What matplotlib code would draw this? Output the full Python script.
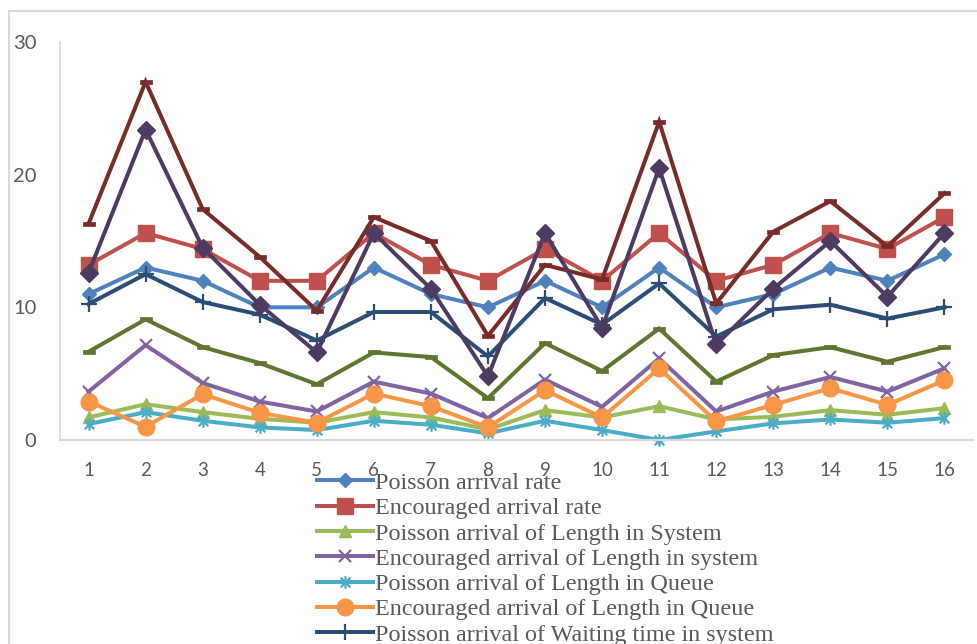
import numpy as np
import matplotlib
matplotlib.use('Agg')
import matplotlib.pyplot as plt
from matplotlib.path import Path
from matplotlib.patches import Rectangle

# experiment number on the x axis
runs = list(range(1, 16 + 1))

poisson_rate = [11, 13, 12, 10, 10, 13, 11, 10, 12, 10, 13, 10, 11, 13, 12, 14]
encouraged_rate = [13.2, 15.6, 14.4, 12, 12, 15.6, 13.2, 12, 14.4, 12, 15.6, 12, 13.2, 15.6, 14.4, 16.8]
poisson_ls = [1.7, 2.7, 2.1, 1.6, 1.3, 2.1, 1.7, 0.8, 2.25, 1.7, 2.55, 1.55, 1.75, 2.25, 1.9, 2.4]
encouraged_ls = [3.65, 7.15, 4.3, 2.9, 2.15, 4.4, 3.5, 1.65, 4.55, 2.5, 6.15, 2.15, 3.65, 4.75, 3.65, 5.4]
poisson_lq = [1.2, 2.1, 1.45, 0.95, 0.75, 1.45, 1.15, 0.5, 1.45, 0.75, 0, 0.65, 1.25, 1.55, 1.3, 1.65]
encouraged_lq = [2.9, 1.0, 3.45, 2.05, 1.3, 3.5, 2.55, 0.95, 3.75, 1.7, 5.4, 1.4, 2.65, 3.9, 2.65, 4.5]
poisson_ws = [10.25, 12.5, 10.4, 9.45, 7.5, 9.65, 9.65, 6.3, 10.7, 8.7, 11.8, 7.8, 9.85, 10.2, 9.15, 10.0]
encouraged_ws = [16.3, 27.0, 17.4, 13.8, 9.75, 16.8, 15.0, 7.85, 13.2, 12.1, 24.0, 10.3, 15.7, 18.0, 14.6, 18.6]
poisson_wq = [6.65, 9.1, 7.0, 5.8, 4.2, 6.6, 6.25, 3.15, 7.3, 5.2, 8.4, 4.4, 6.4, 7.0, 5.9, 7.0]
encouraged_wq = [12.6, 23.4, 14.5, 10.2, 6.6, 15.6, 11.4, 4.8, 15.6, 8.45, 20.5, 7.2, 11.4, 15.0, 10.8, 15.6]

labels = [
    'Poisson arrival rate',
    'Encouraged arrival rate',
    'Poisson arrival of Length in System',
    'Encouraged arrival of Length in system',
    'Poisson arrival of Length in Queue',
    'Encouraged arrival of Length in Queue',
    'Poisson arrival of Waiting time in system',
    'Encouraged arrival of Waiting time in system',
    'Poisson arrival of Waiting time in Queue',
    'Encouraged arrival of Waiting time in Queue',
]

# custom markers: asterisk (x plus vertical bar) and short flat dash
star = Path([(-1, -1), (1, 1), (-1, 1), (1, -1), (0, -1.3), (0, 1.3)],
            [Path.MOVETO, Path.LINETO, Path.MOVETO, Path.LINETO, Path.MOVETO, Path.LINETO])
dash = Path([(-1, -0.38), (1, -0.38), (1, 0.38), (-1, 0.38), (-1, -0.38)],
            [Path.MOVETO, Path.LINETO, Path.LINETO, Path.LINETO, Path.CLOSEPOLY])

series = [
    (poisson_rate, '#4F81BD', 'D', 7.5, 1),
    (encouraged_rate, '#C0504D', 's', 11, 1),
    (poisson_ls, '#9BBB59', '^', 9, 1),
    (encouraged_ls, '#8064A2', 'x', 9, 1.6),
    (poisson_lq, '#4BACC6', star, 9, 1.6),
    (encouraged_lq, '#F79646', 'o', 12, 1),
    (poisson_ws, '#2C4D75', '+', 11, 1.6),
    (encouraged_ws, '#772C2A', dash, 8, 0.5),
    (poisson_wq, '#5F7530', dash, 8, 0.5),
    (encouraged_wq, '#4D3B62', 'D', 9, 1),
]

fig = plt.figure(figsize=(9.78, 6.44), dpi=100)
W, H = 978, 644

# light grey chart border running off the right and bottom edges
fig.patches.append(Rectangle((9 / W, -0.1), 1.2, 1 - 11 / H + 0.1, transform=fig.transFigure,
                             fill=False, edgecolor='#D9D9D9', linewidth=1.5))

ax = fig.add_axes([60 / W, 1 - 440 / H, (973 - 60) / W, (440 - 42) / H])

for (vals, color, marker, ms, mew), lab in zip(series, labels):
    ax.plot(runs, vals, color=color, linewidth=2.9, marker=marker, markersize=ms,
            markeredgewidth=mew, markerfacecolor=color, markeredgecolor=color,
            label=lab, clip_on=False, solid_joinstyle='miter')

ax.set_xlim(0.5, 16.5)
ax.set_ylim(0, 30)
ax.set_yticks([0, 10, 20, 30])
ax.set_xticks(runs)

for side in ['top', 'right']:
    ax.spines[side].set_visible(False)
ax.spines['left'].set_color('#D9D9D9')
ax.spines['bottom'].set_color('#D9D9D9')
ax.spines['left'].set_linewidth(1.2)
ax.spines['bottom'].set_linewidth(1.5)
ax.tick_params(length=0, labelcolor='#595959', labelfontfamily='Lato')
ax.tick_params(axis='y', pad=17, labelsize=14.5)
ax.tick_params(axis='x', pad=16, labelsize=13.5)

fig.legend(loc='upper left', bbox_to_anchor=(317 / W, 1 - 472 / H), frameon=False,
           prop={'family': 'Liberation Serif', 'size': 17.4}, labelcolor='#595959',
           handlelength=2.3, handletextpad=0.12, labelspacing=0.14, borderpad=0,
           borderaxespad=0)

fig.savefig('out.png', dpi=100)
